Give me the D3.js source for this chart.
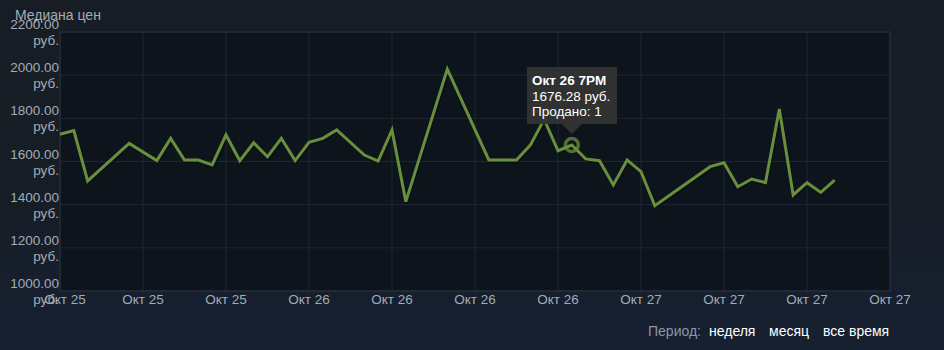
<!DOCTYPE html>
<html>
<head>
<meta charset="utf-8">
<script src="https://cdn.jsdelivr.net/npm/d3@7"></script>
<style>
html,body{margin:0;padding:0;}
body{width:944px;height:350px;overflow:hidden;background:linear-gradient(180deg,#181d25 0%,#171d26 55%,#162031 100%);font-family:"Liberation Sans",Arial,sans-serif;}
</style>
</head>
<body>
<svg id="chart" width="944" height="350"></svg>
<script>
const times = ["2023-10-25T06:00","2023-10-25T07:00","2023-10-25T08:00","2023-10-25T11:00","2023-10-25T13:00","2023-10-25T14:00","2023-10-25T15:00","2023-10-25T16:00","2023-10-25T17:00","2023-10-25T18:00","2023-10-25T19:00","2023-10-25T20:00","2023-10-25T21:00","2023-10-25T22:00","2023-10-25T23:00","2023-10-26T00:00","2023-10-26T01:00","2023-10-26T02:00","2023-10-26T04:00","2023-10-26T05:00","2023-10-26T06:00","2023-10-26T07:00","2023-10-26T10:00","2023-10-26T13:00","2023-10-26T15:00","2023-10-26T16:00","2023-10-26T17:00","2023-10-26T18:00","2023-10-26T19:00","2023-10-26T20:00","2023-10-26T21:00","2023-10-26T22:00","2023-10-26T23:00","2023-10-27T00:00","2023-10-27T01:00","2023-10-27T05:00","2023-10-27T06:00","2023-10-27T07:00","2023-10-27T08:00","2023-10-27T09:00","2023-10-27T10:00","2023-10-27T11:00","2023-10-27T12:00","2023-10-27T13:00","2023-10-27T14:00"];
const prices = [1726,1743,1510,1684,1604,1707,1607,1607,1584,1723,1604,1687,1622,1707,1604,1689,1707,1746,1630,1602,1746,1414,2028,1607,1607,1676,1795,1650,1676.28,1612,1604,1491,1607,1553,1395,1576,1594,1483,1519,1502,1843,1445,1502,1457,1514];
const yTicks = [1000,1200,1400,1600,1800,2000,2200];
const periodLabels = ["неделя","месяц","все время"];
const titleText = "Медиана цен";
const tipIndex = 28;
const tipLines = ["Окт 26 7PM","1676.28 руб.","Продано: 1"];
const monthNames = ["Янв","Фев","Мар","Апр","Май","Июн","Июл","Авг","Сен","Окт","Ноя","Дек"];

const parse = d3.timeParse("%Y-%m-%dT%H:%M");
const data = times.map((t,i)=>({t:parse(t),v:prices[i]}));

const svg = d3.select("#chart");
const L=60,R=890,T=32,B=291;
const x = d3.scaleTime().domain([parse("2023-10-25T06:00"),parse("2023-10-27T18:00")]).range([L,R]);
const y = d3.scaleLinear().domain([1000,2200]).range([B,T]);

svg.append("rect").attr("x",L).attr("y",T).attr("width",R-L).attr("height",B-T).attr("fill","#0e141b");

const xTicks = x.ticks(d3.timeHour.every(6));
// grid
svg.append("g").selectAll("line").data(yTicks).join("line")
  .attr("x1",L).attr("x2",R).attr("y1",d=>y(d)).attr("y2",d=>y(d))
  .attr("stroke","#1d2633").attr("stroke-width",1);
svg.append("g").selectAll("line").data(xTicks).join("line")
  .attr("x1",d=>x(d)).attr("x2",d=>x(d)).attr("y1",T).attr("y2",B)
  .attr("stroke","#1d2633").attr("stroke-width",1);
// frame
svg.append("rect").attr("x",L).attr("y",T).attr("width",R-L).attr("height",B-T)
  .attr("fill","none").attr("stroke","#222d3b").attr("stroke-width",1.5);

// y labels
const yl = svg.append("g").attr("font-size",13.5).attr("fill","#a3acb6").attr("text-anchor","end");
yTicks.forEach(v=>{
  const t = yl.append("text").attr("x",59).attr("y",y(v)-3);
  t.text(v.toFixed(2));
  yl.append("text").attr("x",59).attr("y",y(v)+13).text("руб.");
});

// x labels
const fmt = d=>monthNames[d.getMonth()]+" "+d.getDate();
svg.append("g").attr("font-size",13.5).attr("fill","#a3acb6").attr("text-anchor","middle")
  .selectAll("text").data(xTicks).join("text")
  .attr("x",(d,i)=>i===0?x(d)+5:x(d)).attr("y",304).text(fmt);

// title
svg.append("text").attr("x",15).attr("y",20).attr("font-size",14).attr("fill","#a3acb6").text(titleText);

// line
const line = d3.line().x(d=>x(d.t)).y(d=>y(d.v));
svg.append("path").datum(data).attr("d",line).attr("fill","none")
  .attr("stroke","#000").attr("stroke-opacity",0.25).attr("stroke-width",3.5)
  .attr("transform","translate(1,1.5)").attr("stroke-linejoin","miter");
svg.append("path").datum(data).attr("d",line).attr("fill","none")
  .attr("stroke","#688f3e").attr("stroke-width",3).attr("stroke-linejoin","miter");

// highlight
const p = data[tipIndex];
svg.append("circle").attr("cx",x(p.t)).attr("cy",y(p.v)).attr("r",6.5)
  .attr("fill","none").attr("stroke","#688f3e").attr("stroke-opacity",0.75).attr("stroke-width",3.5);

// tooltip
const px = x(p.t), py = y(p.v);
const tg = svg.append("g");
const bx = 527, by = 67, bw = 90, bh = 57;
tg.append("path").attr("d",`M${bx},${by}h${bw}v${bh}H${px+10}l-10,${py-11-(by+bh)}l-10,${-(py-11-(by+bh))}H${bx}Z`)
  .attr("fill","#333333").attr("fill-opacity",0.95);
tipLines.forEach((s,i)=>{
  tg.append("text").attr("x",bx+5).attr("y",by+18+i*15.5).attr("font-size",13.5)
    .attr("font-weight",i===0?"bold":"normal").attr("fill","#ffffff").text(s);
});

// period
svg.append("text").attr("x",648).attr("y",336).attr("font-size",14).attr("fill","#8f98a0").text("Период:");
const px0 = [709,769,823];
periodLabels.forEach((s,i)=>{
  svg.append("text").attr("x",px0[i]).attr("y",336).attr("font-size",14).attr("fill","#ffffff").text(s);
});
</script>
</body>
</html>
